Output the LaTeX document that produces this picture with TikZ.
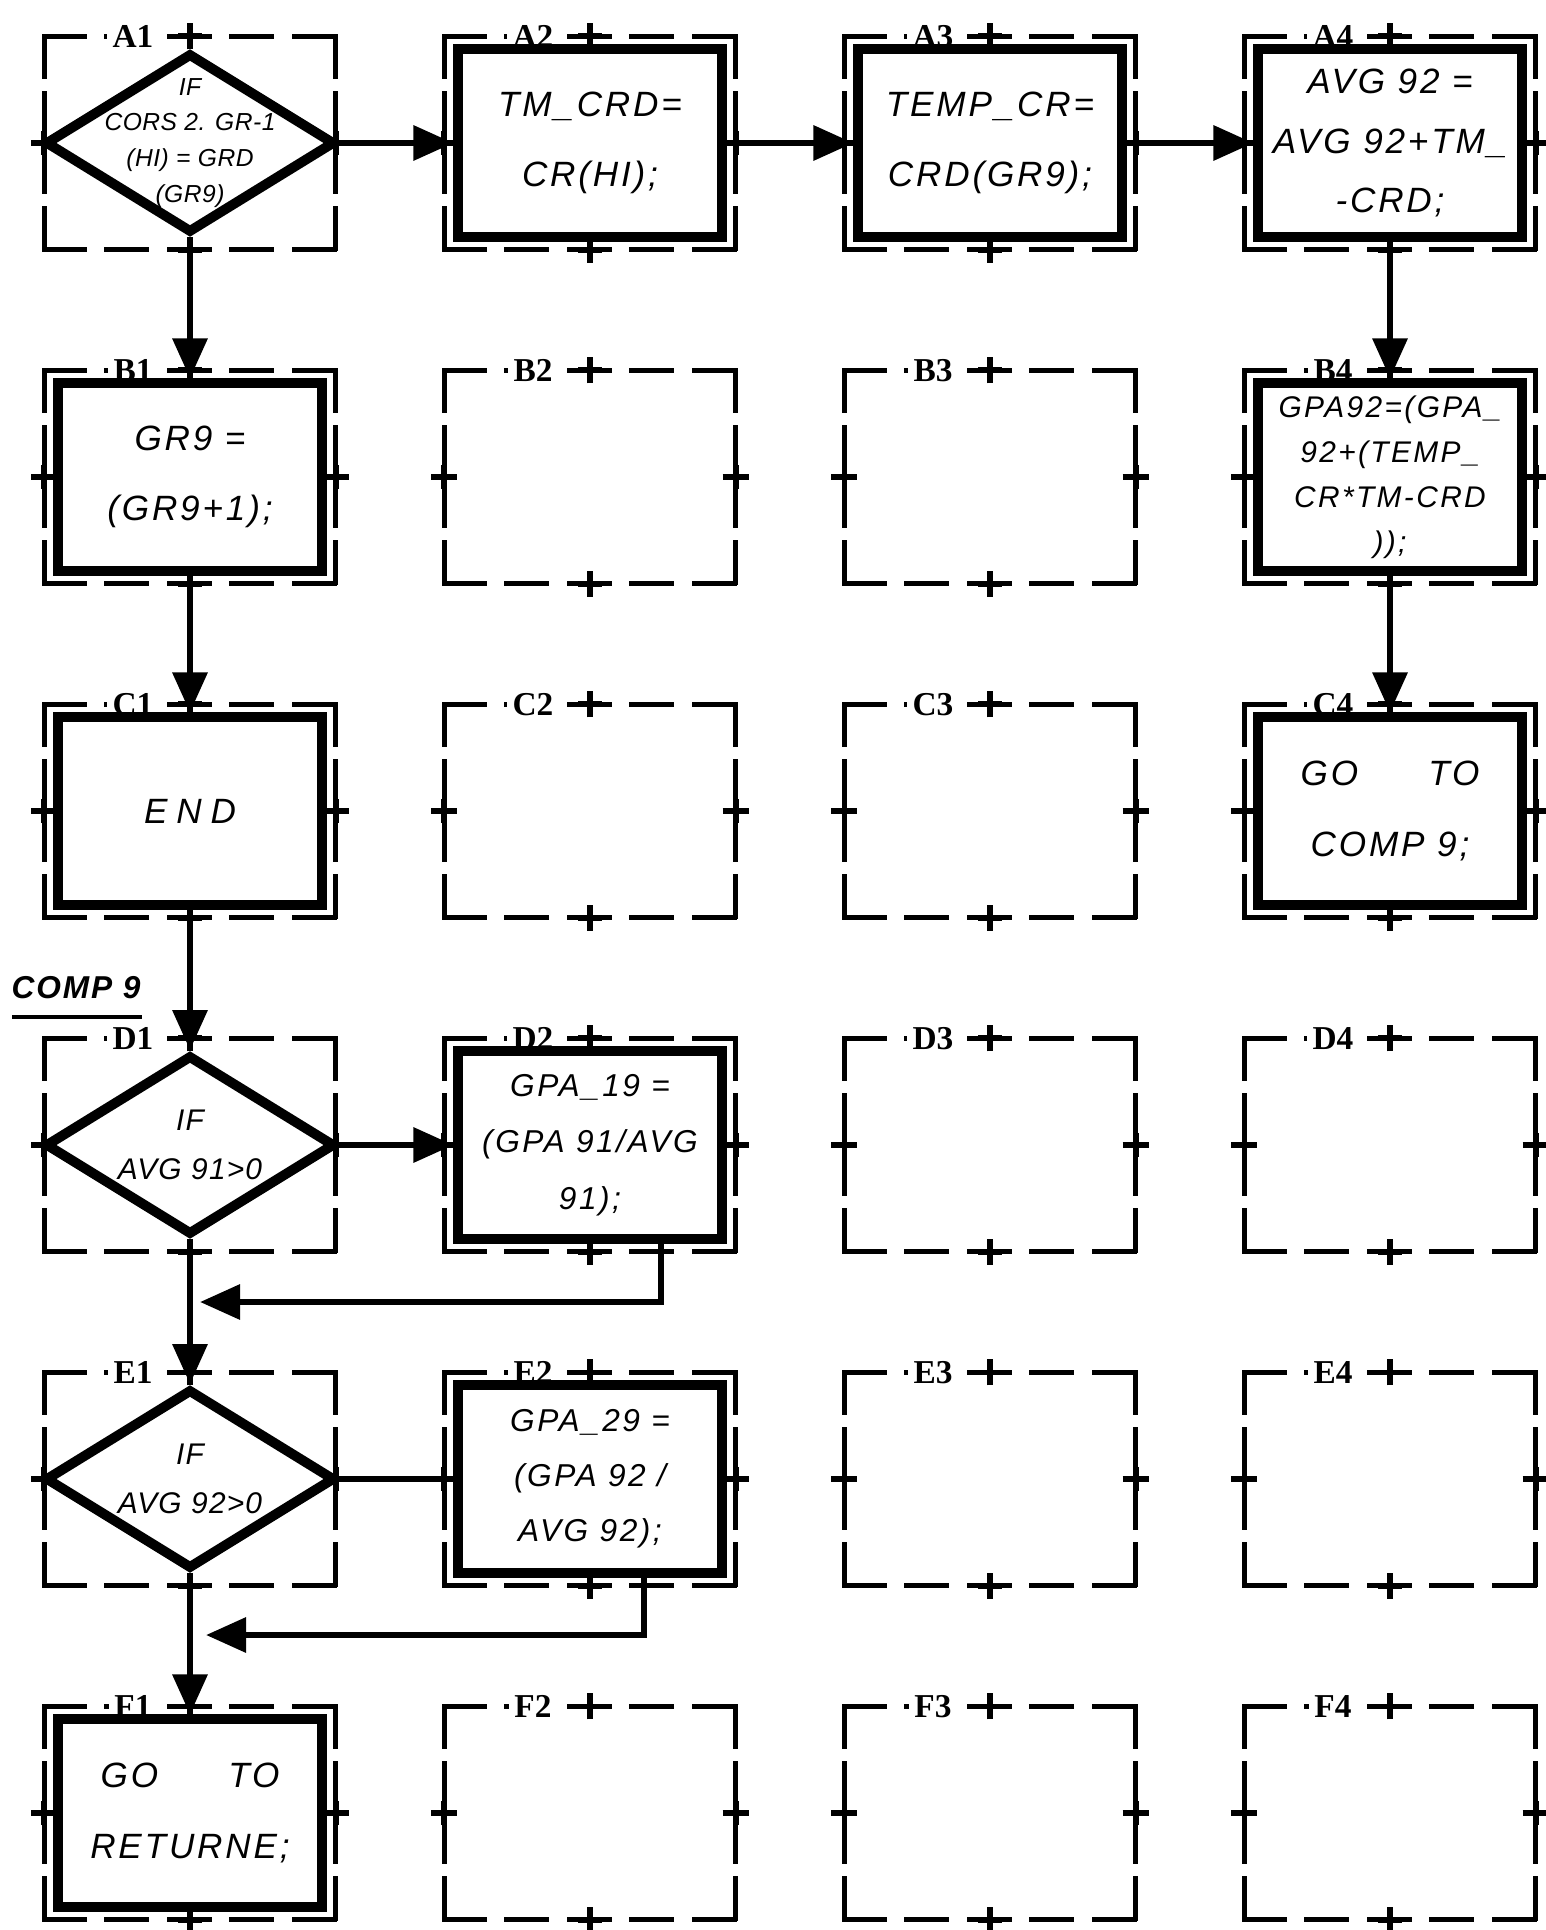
\documentclass[tikz,border=0pt]{standalone}
\usepackage{fontspec}
\newfontfamily\hand{Liberation Sans}[LetterSpace=8]
\newfontfamily\cellfont{Liberation Serif}
\usetikzlibrary{arrows.meta,shapes.geometric}

\begin{document}
\begin{tikzpicture}[x=0.1mm,y=-0.1mm,>=Latex,
    cell/.style={minimum width=29mm,minimum height=21.2mm,inner sep=0pt},
    hside/.style={line width=1.5pt,line cap=rect,dash pattern=on 4mm off 2.25mm},
    vside/.style={line width=1.5pt,line cap=rect,dash pattern=on 4mm off 1.733mm},
    cellname/.style={fill=white,inner sep=1.5pt,font=\cellfont\bfseries\fontsize{9.5}{10}\selectfont},
    tick/.style={line width=1.6pt},
    stmt/.style={draw,line width=2.6pt,minimum width=26.4mm,minimum height=18.8mm,
      inner sep=0pt,align=center,font=\hand\itshape\fontsize{10}{20}\selectfont},
    decision/.style={diamond,draw,line width=2.8pt,minimum width=29mm,minimum height=18mm,
      inner sep=0pt},
    flow/.style={line width=1.8pt,-{Triangle[length=4mm,width=3.4mm]}},
    link/.style={line width=1.8pt}]
  \useasboundingbox (0,0) rectangle (1545,1930);

  \foreach \row [count=\j from 0] in {A,B,C,D,E,F}{
    \foreach \col in {1,2,3,4}{
      \node[cell] (c\row\col) at ({190+400*(\col-1)},{143+334*\j}) {};
      \draw[hside] (c\row\col.north west) -- (c\row\col.north east)
        (c\row\col.south west) -- (c\row\col.south east);
      \draw[vside] (c\row\col.north west) -- (c\row\col.south west)
        (c\row\col.north east) -- (c\row\col.south east);
      \node[cellname] at ([xshift=-5.7mm]c\row\col.north) {\row\col};
      \draw[tick] ([yshift=-1.3mm]c\row\col.north) -- ([yshift=1.3mm]c\row\col.north)
        ([xshift=-1.2mm]c\row\col.north) -- ([xshift=1.2mm]c\row\col.north);
      \draw[tick] ([yshift=-1.3mm]c\row\col.south) -- ([yshift=1.3mm]c\row\col.south)
        ([xshift=-1.2mm]c\row\col.south) -- ([xshift=1.2mm]c\row\col.south);
      \draw[tick] ([xshift=-1.3mm]c\row\col.west) -- ([xshift=1.3mm]c\row\col.west)
        ([yshift=-1.2mm]c\row\col.west) -- ([yshift=1.2mm]c\row\col.west);
      \draw[tick] ([xshift=-1.3mm]c\row\col.east) -- ([xshift=1.3mm]c\row\col.east)
        ([yshift=-1.2mm]c\row\col.east) -- ([yshift=1.2mm]c\row\col.east);
    }
  }

  \node[decision,label={[align=center,font=\hand\itshape\fontsize{7}{10.2}\addfontfeatures{LetterSpace=2}\selectfont]center:{IF\\CORS 2. GR-1\\(HI) = GRD\\(GR9)}}]
    (a1) at (cA1) {};
  \node[stmt] (a2) at (cA2) {TM\_CRD=\\CR(HI);};
  \node[stmt] (a3) at (cA3) {TEMP\_CR=\\CRD(GR9);};
  \node[stmt,font=\hand\itshape\fontsize{10}{17}\selectfont] (a4) at (cA4) {AVG 92 =\\AVG 92+TM\_\\-CRD;};
  \node[stmt] (b1) at (cB1) {GR9 =\\(GR9+1);};
  \node[stmt,font=\hand\itshape\fontsize{8.5}{12.8}\selectfont] (b4) at (cB4) {GPA92=(GPA\_\\92+(TEMP\_\\CR*TM-CRD\\));};
  \node[stmt,font=\hand\itshape\fontsize{10}{20}\addfontfeatures{LetterSpace=25}\selectfont] (c1) at (cC1) {END};
  \node[stmt] (c4) at (cC4) {GO\quad\quad TO\\COMP 9;};
  \node[decision,label={[align=center,font=\hand\itshape\fontsize{8.5}{14}\addfontfeatures{LetterSpace=4}\selectfont]center:{IF\\AVG 91>0}}]
    (d1) at (cD1) {};
  \node[stmt,font=\hand\itshape\fontsize{9}{16}\selectfont] (d2) at (cD2) {GPA\_19 =\\(GPA 91/AVG\\91);};
  \node[decision,label={[align=center,font=\hand\itshape\fontsize{8.5}{14}\addfontfeatures{LetterSpace=4}\selectfont]center:{IF\\AVG 92>0}}]
    (e1) at (cE1) {};
  \node[stmt,font=\hand\itshape\fontsize{9}{15.6}\selectfont] (e2) at (cE2) {GPA\_29 =\\(GPA 92 /\\AVG 92);};
  \node[stmt] (f1) at (cF1) {GO\quad\quad TO\\RETURNE;};

  \node[font=\hand\itshape\bfseries\fontsize{9}{10}\addfontfeatures{LetterSpace=6}\selectfont,inner sep=1pt] (comp9) at (76,988) {COMP 9};
  \draw[line width=1.2pt] (12,1017) -- (142,1017);

  \coordinate (d2turn) at (200,1302);
  \coordinate (e2turn) at (206,1635);

  \draw[flow] (a1.east) -- (a2.west);
  \draw[flow] (a2.east) -- (a3.west);
  \draw[flow] (a3.east) -- (a4.west);
  \draw[flow] (a4.south) -- (b4.north);
  \draw[flow] (b4.south) -- (c4.north);
  \draw[flow] (a1.south) -- (b1.north);
  \draw[flow] (b1.south) -- (c1.north);
  \draw[flow] (c1.south) -- (d1.north);
  \draw[flow] (d1.east) -- (d2.west);
  \draw[flow] ([xshift=7.1mm]d2.south) |- (d2turn);
  \draw[flow] (d1.south) -- (e1.north);
  \draw[link] (e1.east) -- (e2.west);
  \draw[flow] ([xshift=5.4mm]e2.south) |- (e2turn);
  \draw[flow] (e1.south) -- (f1.north);
\end{tikzpicture}
\end{document}
